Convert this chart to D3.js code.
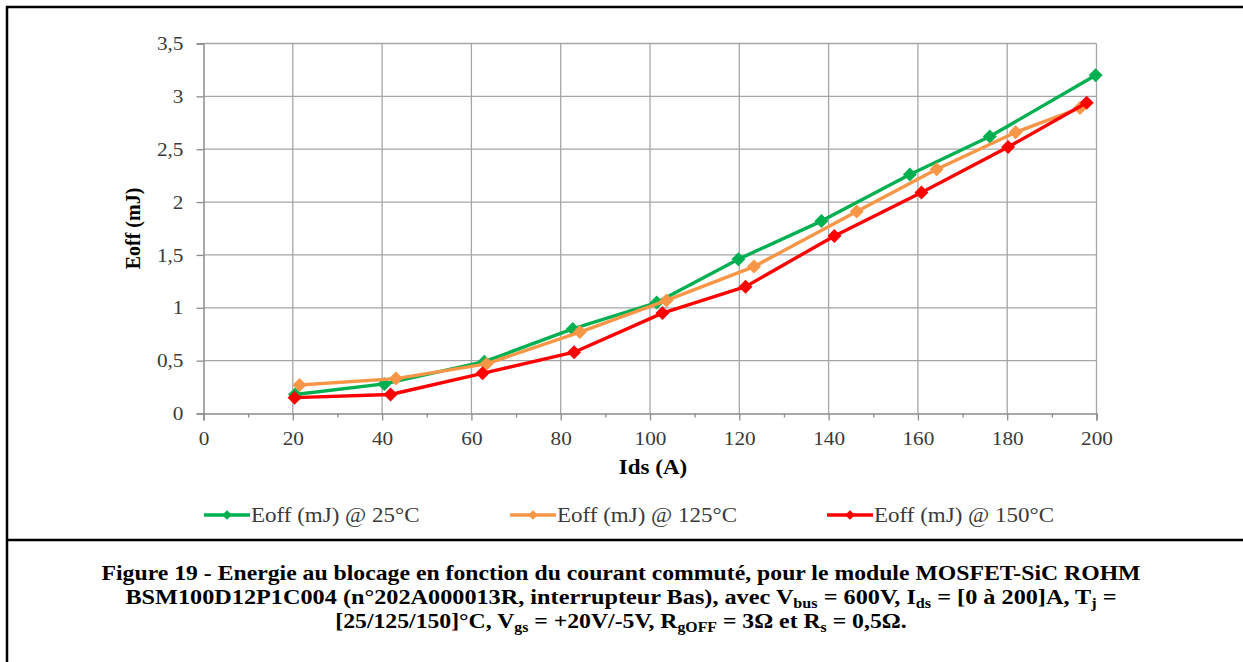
<!DOCTYPE html>
<html><head><meta charset="utf-8">
<script src="https://cdn.jsdelivr.net/npm/d3@7"></script>
<style>
body{margin:0;background:#fff;}
svg{display:block;}
svg text{font-family:"Liberation Serif","Times New Roman",serif;}
</style></head>
<body><svg id="c" width="1243" height="662"></svg>
<script>
// ---- data ----
const seriesNames = ["Eoff (mJ) @ 25°C", "Eoff (mJ) @ 125°C", "Eoff (mJ) @ 150°C"];
const ids25  = [20.5, 40.5, 62.9, 82.7, 101.5, 119.8, 138.4, 158.2, 176.1, 199.8];
const eoff25 = [0.18, 0.28, 0.49, 0.80, 1.05, 1.46, 1.82, 2.26, 2.62, 3.20];
const ids125  = [21.5, 43.1, 63.4, 84.3, 103.7, 123.3, 146.3, 164.2, 181.9, 196.3];
const eoff125 = [0.27, 0.33, 0.47, 0.77, 1.07, 1.39, 1.91, 2.31, 2.66, 2.89];
const ids150  = [20.4, 41.9, 62.5, 83.0, 102.8, 121.4, 141.3, 160.8, 180.2, 197.8];
const eoff150 = [0.15, 0.18, 0.38, 0.58, 0.95, 1.20, 1.68, 2.09, 2.52, 2.94];
const xTicks = [0, 20, 40, 60, 80, 100, 120, 140, 160, 180, 200];
const yTicks = [0, 0.5, 1, 1.5, 2, 2.5, 3, 3.5];
const xTitle = "Ids (A)";
const yTitle = "Eoff (mJ)";
const colors = ["#00B050", "#F79646", "#FF0000"];

const svg = d3.select("#c");
const L = 203.5, R = 1096.5, T = 43.5, B = 413.5;
const x = d3.scaleLinear().domain([0, 200]).range([L, R]);
const y = d3.scaleLinear().domain([0, 3.5]).range([B, T]);

// horizontal stretch helper (the reference text is slightly wide)
function stretch(sel, s) {
  sel.each(function() {
    const t = d3.select(this);
    const x0 = +t.attr("x") || 0;
    t.attr("x", x0 / s).attr("transform", `scale(${s},1)`);
  });
}

// frame
svg.append("path").attr("d", "M7,670 V7 H1250").attr("fill", "none").attr("stroke", "#000").attr("stroke-width", 2.5);
svg.append("line").attr("x1", 7).attr("x2", 1250).attr("y1", 540).attr("y2", 540).attr("stroke", "#000").attr("stroke-width", 2.5);

// grid
const grid = svg.append("g");
grid.selectAll(".gx").data(xTicks.slice(1)).join("line")
  .attr("x1", d => x(d)).attr("x2", d => x(d)).attr("y1", T).attr("y2", B)
  .attr("stroke", "#a6a6a6").attr("stroke-width", 1.3);
grid.selectAll(".gy").data(yTicks.slice(1)).join("line")
  .attr("x1", L).attr("x2", R).attr("y1", d => y(d)).attr("y2", d => y(d))
  .attr("stroke", "#a6a6a6").attr("stroke-width", 1.3);

// axes
const xAxis = d3.axisBottom(x).tickValues(xTicks).tickSize(7).tickPadding(6).tickFormat(d3.format("d"));
const gx = svg.append("g").attr("transform", `translate(0,${B})`).call(xAxis);
const xMinor = d3.axisBottom(x).tickValues(d3.range(10, 200, 20)).tickSize(4).tickFormat("");
svg.append("g").attr("transform", `translate(0,${B})`).call(xMinor).select(".domain").remove();
const fmtY = d => String(d).replace(".", ",");
const yAxis = d3.axisLeft(y).tickValues(yTicks).tickSize(7).tickPadding(13).tickFormat(fmtY);
const gy = svg.append("g").attr("transform", `translate(${L},0)`).call(yAxis);
svg.selectAll("g").attr("font-family", null).attr("font-size", null);
svg.selectAll(".domain").attr("stroke", "#8c8c8c").attr("stroke-width", 1.5);
svg.selectAll(".tick line").attr("stroke", "#8c8c8c").attr("stroke-width", 1.3);
svg.selectAll(".tick text").style("font-family", "'Liberation Serif', serif").attr("font-size", 19).attr("fill", "#3a3a3a");
gx.selectAll(".tick text").attr("dy", "0.95em");
stretch(svg.selectAll(".tick text"), 1.12);

// axis titles
const xt = svg.append("text").attr("x", (L + R) / 2 + 3).attr("y", 474).attr("text-anchor", "middle")
  .attr("font-weight", "bold").attr("font-size", 20).text(xTitle);
stretch(xt, 1.15);
svg.append("text").attr("transform", `translate(140,${(T + B) / 2}) rotate(-90)`).attr("text-anchor", "middle")
  .attr("font-weight", "bold").attr("font-size", 20).text(yTitle);

// series
const series = [
  {xs: ids25, ys: eoff25},
  {xs: ids125, ys: eoff125},
  {xs: ids150, ys: eoff150}
];
const line = d3.line().x(d => x(d[0])).y(d => y(d[1]));
const diamond = d3.symbol().type(d3.symbolDiamond2).size(125);
series.forEach((s, i) => {
  const pts = s.xs.map((v, k) => [v, s.ys[k]]);
  const g = svg.append("g");
  g.append("path").datum(pts).attr("d", line).attr("fill", "none")
    .attr("stroke", colors[i]).attr("stroke-width", 3.4).attr("stroke-linejoin", "round");
  g.selectAll("path.m").data(pts).join("path").attr("class", "m")
    .attr("transform", d => `translate(${x(d[0])},${y(d[1])})`)
    .attr("d", diamond).attr("fill", colors[i]);
});

// legend
const legX = [204, 510, 827];
series.forEach((s, i) => {
  const g = svg.append("g").attr("transform", `translate(${legX[i]},515)`);
  g.append("line").attr("x1", 0).attr("x2", 46).attr("stroke", colors[i]).attr("stroke-width", 3.4);
  g.append("path").attr("transform", "translate(23,0)").attr("d", d3.symbol().type(d3.symbolDiamond2).size(60)).attr("fill", colors[i]);
  const t = g.append("text").attr("x", 47).attr("y", 6.5).attr("font-size", 20).attr("fill", "#3a3a3a").text(seriesNames[i]);
  stretch(t, 1.15);
});

// caption
const cap = svg.append("g").attr("font-weight", "bold").attr("font-size", 21).attr("text-anchor", "middle");
function capLine(yy, sx, parts) {
  const t = cap.append("text").attr("x", 0).attr("y", yy)
    .attr("transform", `translate(621,0) scale(${sx},1)`);
  let pending = 0;
  parts.forEach(p => {
    if (typeof p === "string") {
      const ts = t.append("tspan").text(p);
      if (pending) { ts.attr("dy", pending); pending = 0; }
    } else {
      t.append("tspan").attr("font-size", 14).attr("dy", 4).text(p.sub);
      pending = -4;
    }
  });
}
capLine(580, 1.13, ["Figure 19 - Energie au blocage en fonction du courant commuté, pour le module MOSFET-SiC ROHM"]);
capLine(604, 1.155, ["BSM100D12P1C004 (n°202A000013R, interrupteur Bas), avec V", {sub: "bus"}, " = 600V, I", {sub: "ds"}, " = [0 à 200]A, T", {sub: "j"}, " ="]);
capLine(628, 1.13, ["[25/125/150]°C, V", {sub: "gs"}, " = +20V/-5V, R", {sub: "gOFF"}, " = 3Ω et R", {sub: "s"}, " = 0,5Ω."]);
</script>
</body></html>
